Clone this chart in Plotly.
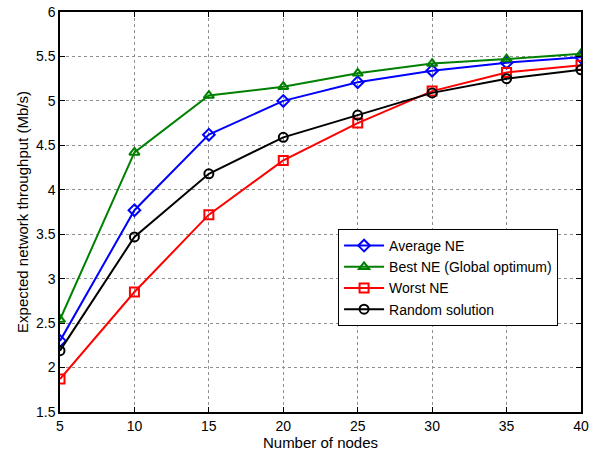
import plotly.graph_objects as go

nodes = [5, 10, 15, 20, 25, 30, 35, 40]
average_ne = [2.30, 3.77, 4.62, 5.00, 5.21, 5.34, 5.43, 5.49]
best_ne = [2.54, 4.42, 5.06, 5.16, 5.31, 5.42, 5.47, 5.53]
worst_ne = [1.87, 2.85, 3.72, 4.33, 4.75, 5.11, 5.32, 5.40]
random_sol = [2.19, 3.47, 4.18, 4.59, 4.84, 5.09, 5.25, 5.35]
x_ticks = [5, 10, 15, 20, 25, 30, 35, 40]
y_ticks = [1.5, 2, 2.5, 3, 3.5, 4, 4.5, 5, 5.5, 6]
y_tick_labels = ["1.5", "2", "2.5", "3", "3.5", "4", "4.5", "5", "5.5", "6"]

series = [
    ("Average NE", average_ne, "#0000ff", "diamond-open"),
    ("Best NE (Global optimum)", best_ne, "#008000", "triangle-up-open"),
    ("Worst NE", worst_ne, "#ff0000", "square-open"),
    ("Random solution", random_sol, "#000000", "circle-open"),
]

fig = go.Figure()
for name, vals, color, sym in series:
    fig.add_trace(go.Scatter(
        x=nodes, y=vals, name=name, mode="lines+markers",
        line=dict(color=color, width=2),
        marker=dict(symbol=sym, size=9, color=color, line=dict(width=2, color=color)),
    ))

axis_common = dict(
    showline=True, linecolor="black", linewidth=1.5, mirror="ticks",
    ticks="inside", ticklen=5, tickcolor="black",
    showgrid=True, gridcolor="#909090", griddash="dot", gridwidth=1,
    zeroline=False, tickfont=dict(size=14, color="black"), automargin=False,
)

fig.update_layout(
    width=592, height=451,
    margin=dict(l=60, r=11, t=12, b=39),
    paper_bgcolor="white", plot_bgcolor="white",
    font=dict(family="Liberation Sans, Arial, sans-serif", color="black", size=15),
    xaxis=dict(range=[5, 40], tickvals=x_ticks,
               title=dict(text="Number of nodes", font=dict(size=15), standoff=0), **axis_common),
    yaxis=dict(range=[1.5, 6], tickvals=y_ticks, ticktext=y_tick_labels,
               title=dict(text="Expected network throughput (Mb/s)", font=dict(size=15), standoff=4), **axis_common),
    legend=dict(x=0.956, y=0.4575, xanchor="right", yanchor="top",
                bordercolor="black", borderwidth=1, bgcolor="white",
                font=dict(size=14), tracegroupgap=0, itemwidth=40),
    showlegend=True,
)

fig.write_html("out.html", config={"displayModeBar": False},
               post_script="document.body.style.margin='0';")
